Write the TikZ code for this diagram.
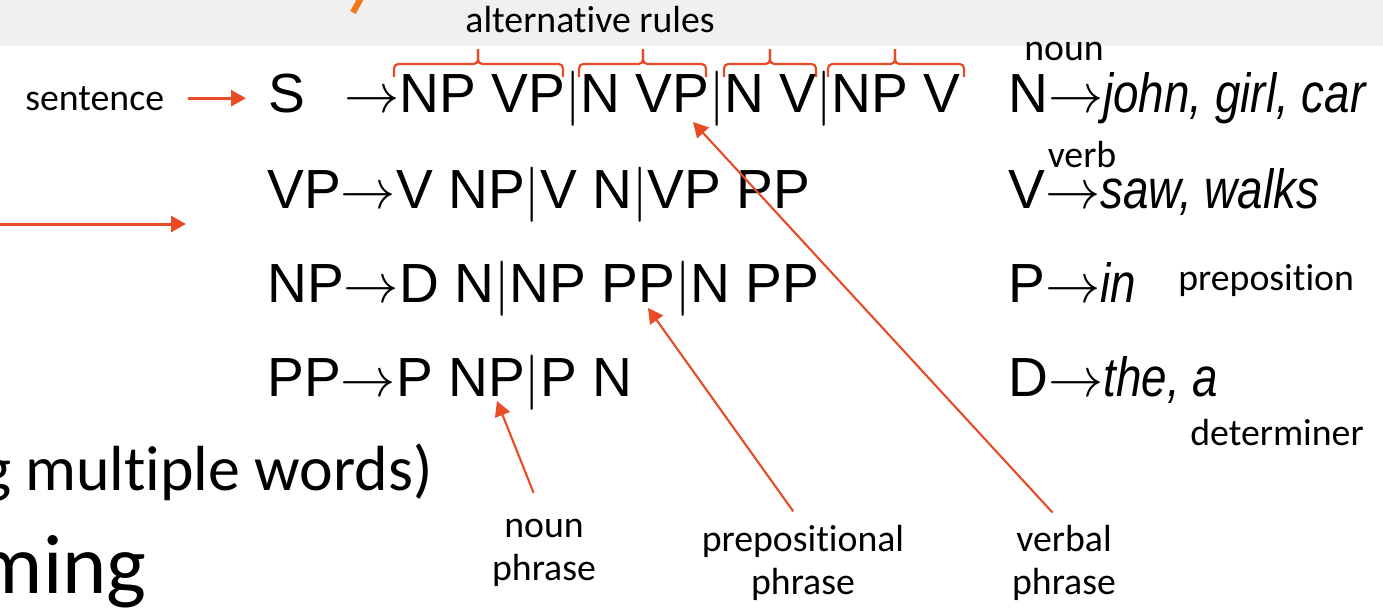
\documentclass[tikz,border=0pt]{standalone}
\usepackage{fix-cm}
\usepackage{fontspec}
\setmainfont{Carlito}[Ligatures=NoCommon]
\newfontfamily\arialfont{Liberation Sans}
\usetikzlibrary{arrows.meta}
\definecolor{accent}{HTML}{E84C26}
\definecolor{slashc}{HTML}{F07818}
\definecolor{bandgrey}{HTML}{F0F0F0}
\newcommand\grammarfont{\arialfont\fontsize{31.4}{36}\selectfont}
\newcommand\lblfont{\fontsize{21.5}{24.5}\selectfont}
\newcommand\alt{$|$}
\newcommand\lexwords[1]{\scalebox{0.83}[1]{\textit{#1}}}
\newcommand\altbrace[3]{%
  \draw[brk] (#1,77) -- (#1,64) -- (#2,64) -- (#2,49);
  \draw[brk] (#3,77) -- (#3,64) -- (#2,64) -- (#2,49);}
\tikzset{
  rule/.style={anchor=base west, inner sep=0, font=\grammarfont},
  lbl/.style={inner sep=0, align=center, font=\lblfont},
  ptr/.style={draw=accent, line width=1.2pt, -{Triangle[length=8.5pt,width=9pt]}},
  brk/.style={draw=accent, line width=1.25pt, rounded corners=2.5pt},
}
\begin{document}
\begin{tikzpicture}[x=0.02cm, y=-0.02cm]
  \useasboundingbox (0,0) rectangle (1383,613);
  \clip (0,0) rectangle (1383,613);
  \fill[bandgrey] (0,0) rectangle (1383,46);
  \draw[slashc, line width=3.5pt] (362,-4) -- (353,12.5);
  \node[lbl, anchor=base] (alt) at (590,32) {alternative rules};
  \altbrace{394}{478}{563}
  \altbrace{579}{643}{706}
  \altbrace{724}{770}{816}
  \altbrace{828}{895}{964}

  \node[rule] (start) at (268,112) {S};
  \node[rule] (rowS) at (344,112) {$\rightarrow$NP VP\alt N VP\alt N V\alt NP V};
  \node[rule] (rowVP) at (267,208) {VP$\rightarrow$V NP\alt V N\alt VP PP};
  \node[rule] (rowNP) at (267,302) {NP$\rightarrow$D N\alt NP PP\alt N PP};
  \node[rule] (rowPP) at (267,396) {PP$\rightarrow$P NP\alt P N};
  \node[rule] (lexN) at (1008,112) {N$\rightarrow$\lexwords{john, girl, car}};
  \node[rule] (lexV) at (1008,208) {V$\rightarrow$\lexwords{saw, walks}};
  \node[rule] (lexP) at (1008,302) {P$\rightarrow$\lexwords{in}};
  \node[rule] (lexD) at (1008,396) {D$\rightarrow$\lexwords{the, a}};

  \node[lbl, anchor=base] (noun) at (1064,60) {noun};
  \node[lbl, anchor=base] (verb) at (1082,167) {verb};
  \node[lbl, anchor=base west] (prep) at (1178,290) {preposition};
  \node[lbl, anchor=base west] (det) at (1190,445) {determiner};

  \node[lbl, anchor=base west] (sent) at (25,110) {sentence};
  \draw[ptr, line width=1.7pt, shorten <=13.5pt, shorten >=12.5pt]
    (sent.east) -- (sent.east -| start.west);
  \coordinate (cutL) at (0,224);
  \coordinate (cutR) at (186,224);
  \draw[ptr, line width=1.7pt] (cutL) -- (cutR);

  \node[anchor=base east, inner sep=0, font=\fontsize{36.3}{40}\selectfont]
    (frag1) at (433,490) {g multiple words)};
  \node[anchor=base east, inner sep=0, font=\fontsize{48}{52}\selectfont]
    (frag2) at (147,593) {ming};

  \coordinate (npTip) at (497,401);
  \coordinate (ppTip) at (648,308);
  \coordinate (vpTip) at (693,122);
  \node[lbl, anchor=north] (npLbl) at (544,519) {noun\\phrase};
  \node[lbl, anchor=north] (ppLbl) at (803,525) {prepositional\\phrase};
  \node[lbl, anchor=north] (vpLbl) at (1064,525) {verbal\\phrase};
  \draw[ptr, shorten <=16pt] (npLbl.north) -- (npTip);
  \draw[ptr, shorten <=9.6pt] (ppLbl.north) -- (ppTip);
  \draw[ptr, shorten <=9.6pt] (vpLbl.north) -- (vpTip);
\end{tikzpicture}
\end{document}
